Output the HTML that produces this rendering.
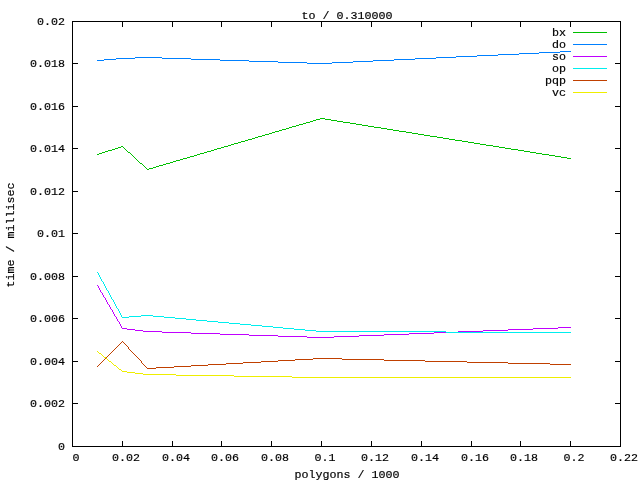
<!DOCTYPE html>
<html><head><meta charset="utf-8"><title>to / 0.310000</title>
<style>
html,body{margin:0;padding:0;background:#fff;}
svg{display:block;}
text{font-family:"Liberation Mono",monospace;font-size:11.667px;fill:#000;stroke:#000;stroke-width:0.18px;}
</style></head><body>
<svg width="640" height="480" viewBox="0 0 640 480">
<rect width="640" height="480" fill="#fff"/>
<g stroke="#000" stroke-width="1" fill="none" shape-rendering="crispEdges">
<rect x="72.5" y="21.5" width="548" height="425"/>
<path d="M122.5 441V447 M122.5 21V27"/>
<path d="M172.5 441V447 M172.5 21V27"/>
<path d="M221.5 441V447 M221.5 21V27"/>
<path d="M271.5 441V447 M271.5 21V27"/>
<path d="M321.5 441V447 M321.5 21V27"/>
<path d="M371.5 441V447 M371.5 21V27"/>
<path d="M421.5 441V447 M421.5 21V27"/>
<path d="M471.5 441V447 M471.5 21V27"/>
<path d="M520.5 441V447 M520.5 21V27"/>
<path d="M570.5 441V447 M570.5 21V27"/>
<path d="M72 403.5H78 M615 403.5H621"/>
<path d="M72 361.5H78 M615 361.5H621"/>
<path d="M72 318.5H78 M615 318.5H621"/>
<path d="M72 276.5H78 M615 276.5H621"/>
<path d="M72 233.5H78 M615 233.5H621"/>
<path d="M72 191.5H78 M615 191.5H621"/>
<path d="M72 148.5H78 M615 148.5H621"/>
<path d="M72 106.5H78 M615 106.5H621"/>
<path d="M72 63.5H78 M615 63.5H621"/>
</g>
<g stroke-width="1" fill="none" shape-rendering="crispEdges">
<path stroke="#00c000" d="M320 118.5h5M316 119.5h4M325 119.5h6M313 120.5h3M331 120.5h6M310 121.5h3M337 121.5h6M306 122.5h4M343 122.5h7M303 123.5h3M350 123.5h6M299 124.5h4M356 124.5h6M296 125.5h3M362 125.5h6M292 126.5h4M368 126.5h6M289 127.5h3M374 127.5h7M286 128.5h3M381 128.5h6M282 129.5h4M387 129.5h6M279 130.5h3M393 130.5h6M275 131.5h4M399 131.5h7M272 132.5h3M406 132.5h6M269 133.5h3M412 133.5h6M265 134.5h4M418 134.5h6M262 135.5h3M424 135.5h6M258 136.5h4M430 136.5h7M255 137.5h3M437 137.5h6M252 138.5h3M443 138.5h6M248 139.5h4M449 139.5h6M245 140.5h3M455 140.5h7M241 141.5h4M462 141.5h6M238 142.5h3M468 142.5h6M234 143.5h4M474 143.5h6M231 144.5h3M480 144.5h6M228 145.5h3M486 145.5h7M121 146.5h2M224 146.5h4M493 146.5h6M118 147.5h3M123 147.5h1M221 147.5h3M499 147.5h6M115 148.5h3M124 148.5h1M217 148.5h4M505 148.5h6M112 149.5h3M125 149.5h1M214 149.5h3M511 149.5h7M108 150.5h4M126 150.5h1M211 150.5h3M518 150.5h6M105 151.5h3M127 151.5h1M207 151.5h4M524 151.5h6M102 152.5h3M128 152.5h2M204 152.5h3M530 152.5h6M99 153.5h3M130 153.5h1M200 153.5h4M536 153.5h6M97 154.5h2M131 154.5h1M197 154.5h3M542 154.5h7M132 155.5h1M194 155.5h3M549 155.5h6M133 156.5h1M190 156.5h4M555 156.5h6M134 157.5h1M187 157.5h3M561 157.5h6M135 158.5h1M183 158.5h4M567 158.5h4M136 159.5h1M180 159.5h3M137 160.5h1M176 160.5h4M138 161.5h1M173 161.5h3M139 162.5h1M170 162.5h3M140 163.5h2M166 163.5h4M142 164.5h1M163 164.5h3M143 165.5h1M159 165.5h4M144 166.5h1M156 166.5h3M145 167.5h1M153 167.5h3M146 168.5h1M149 168.5h4M147 169.5h2"/>
<path stroke="#00c000" d="M573 32.5H607"/>
<path stroke="#0080ff" d="M560 51.5h11M539 52.5h21M519 53.5h20M498 54.5h21M477 55.5h21M456 56.5h21M135 57.5h27M436 57.5h20M116 58.5h19M162 58.5h29M415 58.5h21M104 59.5h12M191 59.5h29M394 59.5h21M97 60.5h7M220 60.5h29M373 60.5h21M249 61.5h29M353 61.5h20M278 62.5h29M332 62.5h21M307 63.5h25"/>
<path stroke="#0080ff" d="M573 44.5H607"/>
<path stroke="#c000ff" d="M97 285.5h1M98 286.5h1M98 287.5h1M99 288.5h1M99 289.5h1M100 290.5h1M100 291.5h1M101 292.5h1M102 293.5h1M102 294.5h1M103 295.5h1M103 296.5h1M104 297.5h1M105 298.5h1M105 299.5h1M106 300.5h1M106 301.5h1M107 302.5h1M107 303.5h1M108 304.5h1M109 305.5h1M109 306.5h1M110 307.5h1M110 308.5h1M111 309.5h1M112 310.5h1M112 311.5h1M113 312.5h1M113 313.5h1M114 314.5h1M114 315.5h1M115 316.5h1M116 317.5h1M116 318.5h1M117 319.5h1M117 320.5h1M118 321.5h1M119 322.5h1M119 323.5h1M120 324.5h1M120 325.5h1M121 326.5h1M121 327.5h1M558 327.5h13M122 328.5h5M533 328.5h25M127 329.5h8M508 329.5h25M135 330.5h8M483 330.5h25M143 331.5h19M458 331.5h25M162 332.5h29M434 332.5h24M191 333.5h29M409 333.5h25M220 334.5h29M384 334.5h25M249 335.5h29M359 335.5h25M278 336.5h29M334 336.5h25M307 337.5h27"/>
<path stroke="#c000ff" d="M573 56.5H607"/>
<path stroke="#00eeee" d="M97 272.5h1M98 273.5h1M98 274.5h1M99 275.5h1M99 276.5h1M100 277.5h1M100 278.5h1M101 279.5h1M101 280.5h1M102 281.5h1M103 282.5h1M103 283.5h1M104 284.5h1M104 285.5h1M105 286.5h1M105 287.5h1M106 288.5h1M106 289.5h1M107 290.5h1M108 291.5h1M108 292.5h1M109 293.5h1M109 294.5h1M110 295.5h1M110 296.5h1M111 297.5h1M111 298.5h1M112 299.5h1M113 300.5h1M113 301.5h1M114 302.5h1M114 303.5h1M115 304.5h1M115 305.5h1M116 306.5h1M116 307.5h1M117 308.5h1M118 309.5h1M118 310.5h1M119 311.5h1M119 312.5h1M120 313.5h1M120 314.5h1M121 315.5h1M141 315.5h12M121 316.5h1M129 316.5h12M153 316.5h11M122 317.5h7M164 317.5h11M175 318.5h11M186 319.5h10M196 320.5h11M207 321.5h11M218 322.5h11M229 323.5h11M240 324.5h11M251 325.5h11M262 326.5h11M273 327.5h10M283 328.5h11M294 329.5h11M305 330.5h11M316 331.5h130M446 332.5h125"/>
<path stroke="#00eeee" d="M573 68.5H607"/>
<path stroke="#c04000" d="M122 341.5h1M121 342.5h1M123 342.5h1M120 343.5h1M124 343.5h1M119 344.5h1M125 344.5h1M118 345.5h1M126 345.5h1M117 346.5h1M127 346.5h1M116 347.5h1M128 347.5h1M115 348.5h1M128 348.5h1M114 349.5h1M129 349.5h1M113 350.5h1M130 350.5h1M112 351.5h1M131 351.5h1M111 352.5h1M132 352.5h1M110 353.5h1M133 353.5h1M109 354.5h1M134 354.5h1M108 355.5h1M135 355.5h1M107 356.5h1M136 356.5h1M106 357.5h1M137 357.5h1M105 358.5h1M138 358.5h1M313 358.5h29M104 359.5h1M139 359.5h1M295 359.5h18M342 359.5h42M103 360.5h1M140 360.5h1M278 360.5h17M384 360.5h41M102 361.5h1M141 361.5h1M261 361.5h17M425 361.5h42M101 362.5h1M141 362.5h1M243 362.5h18M467 362.5h41M100 363.5h1M142 363.5h1M226 363.5h17M508 363.5h42M99 364.5h1M143 364.5h1M208 364.5h18M550 364.5h21M98 365.5h1M144 365.5h1M191 365.5h17M97 366.5h1M145 366.5h1M174 366.5h17M146 367.5h1M156 367.5h18M147 368.5h9"/>
<path stroke="#c04000" d="M573 80.5H607"/>
<path stroke="#eeee00" d="M97 351.5h1M98 352.5h1M99 353.5h2M101 354.5h1M102 355.5h1M103 356.5h1M104 357.5h2M106 358.5h1M107 359.5h1M108 360.5h1M109 361.5h2M111 362.5h1M112 363.5h1M113 364.5h1M114 365.5h2M116 366.5h1M117 367.5h1M118 368.5h1M119 369.5h2M121 370.5h1M122 371.5h5M127 372.5h8M135 373.5h8M143 374.5h33M176 375.5h58M234 376.5h58M292 377.5h279"/>
<path stroke="#eeee00" d="M573 92.5H607"/>
</g>
<text x="65" y="450" text-anchor="end">0</text>
<text x="65" y="407" text-anchor="end">0.002</text>
<text x="65" y="365" text-anchor="end">0.004</text>
<text x="65" y="322" text-anchor="end">0.006</text>
<text x="65" y="280" text-anchor="end">0.008</text>
<text x="65" y="237" text-anchor="end">0.01</text>
<text x="65" y="195" text-anchor="end">0.012</text>
<text x="65" y="152" text-anchor="end">0.014</text>
<text x="65" y="110" text-anchor="end">0.016</text>
<text x="65" y="67" text-anchor="end">0.018</text>
<text x="65" y="25" text-anchor="end">0.02</text>
<text x="72.5" y="461" text-anchor="start">0</text>
<text x="112.0" y="461" text-anchor="start">0.02</text>
<text x="162.0" y="461" text-anchor="start">0.04</text>
<text x="211.0" y="461" text-anchor="start">0.06</text>
<text x="261.0" y="461" text-anchor="start">0.08</text>
<text x="314.5" y="461" text-anchor="start">0.1</text>
<text x="361.0" y="461" text-anchor="start">0.12</text>
<text x="411.0" y="461" text-anchor="start">0.14</text>
<text x="461.0" y="461" text-anchor="start">0.16</text>
<text x="510.0" y="461" text-anchor="start">0.18</text>
<text x="563.5" y="461" text-anchor="start">0.2</text>
<text x="610.0" y="461" text-anchor="start">0.22</text>
<text x="566" y="36" text-anchor="end">bx</text>
<text x="566" y="48" text-anchor="end">do</text>
<text x="566" y="60" text-anchor="end">so</text>
<text x="566" y="72" text-anchor="end">op</text>
<text x="566" y="84" text-anchor="end">pqp</text>
<text x="566" y="96" text-anchor="end">vc</text>
<text x="301.5" y="19" text-anchor="start">to / 0.310000</text>
<text x="294.5" y="477.5" text-anchor="start">polygons / 1000</text>
<text transform="translate(13.5,287.5) rotate(-90)" x="0" y="0">time / millisec</text>
</svg>
</body></html>
